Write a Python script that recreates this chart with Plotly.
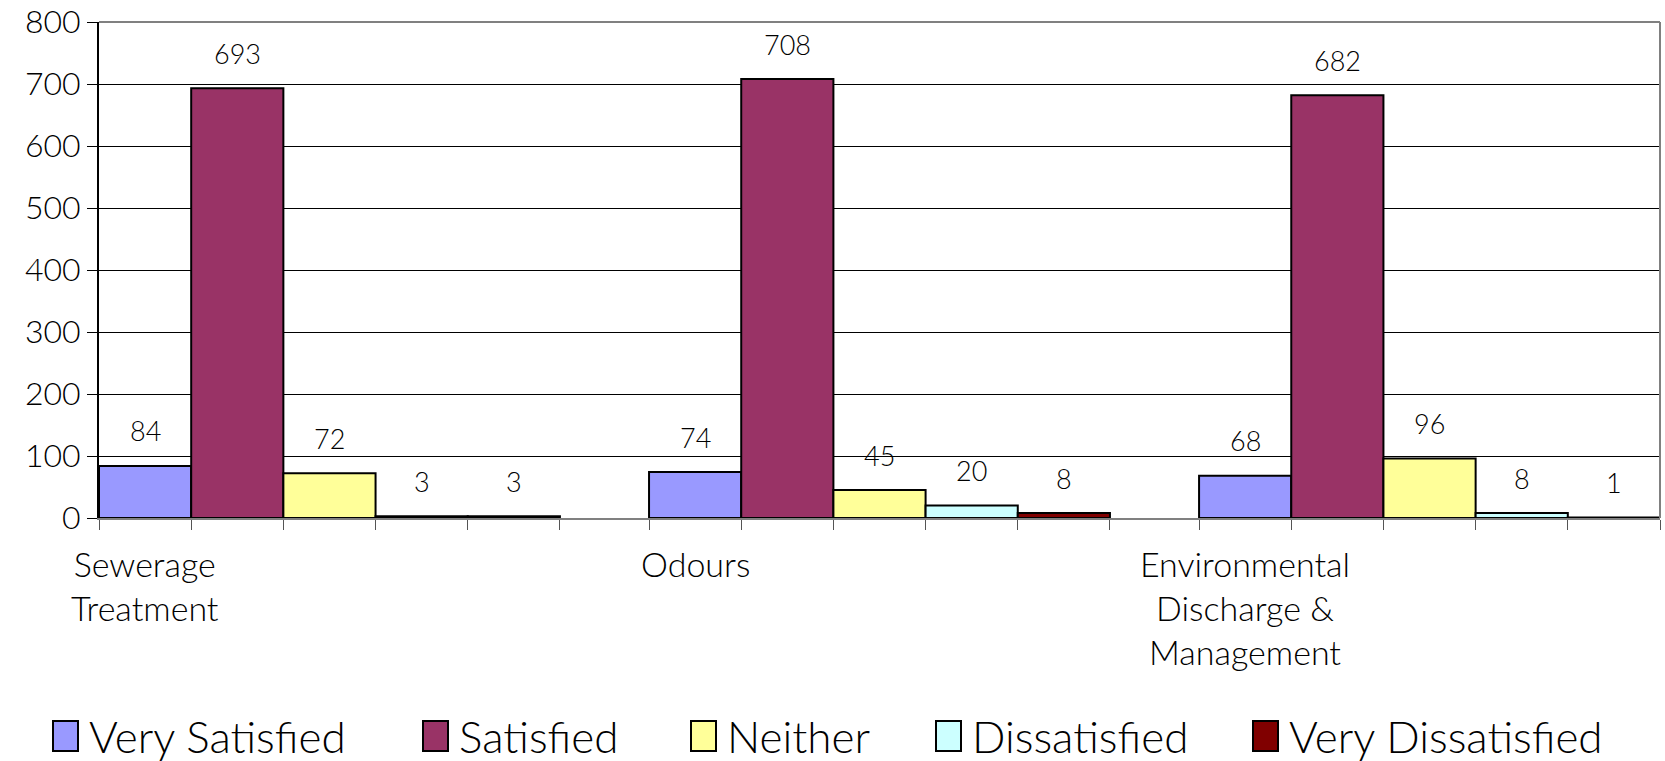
import plotly.graph_objects as go

# Survey results by topic
categories = ["Sewerage Treatment", "Odours", "Environmental Discharge & Management"]
category_labels = ["Sewerage<br>Treatment", "Odours", "Environmental<br>Discharge &<br>Management"]

series_names = ["Very Satisfied", "Satisfied", "Neither", "Dissatisfied", "Very Dissatisfied"]
very_satisfied = [84, 74, 68]
satisfied = [693, 708, 682]
neither = [72, 45, 96]
dissatisfied = [3, 20, 8]
very_dissatisfied = [3, 8, 1]

y_ticks = [0, 100, 200, 300, 400, 500, 600, 700, 800]

series_values = [very_satisfied, satisfied, neither, dissatisfied, very_dissatisfied]
series_colors = ["#9999FF", "#993366", "#FFFF99", "#CCFFFF", "#800000"]

FONT = "Lato, Liberation Sans, Arial, sans-serif"
WEIGHT = 300
W, H = 1665, 761
M_L, M_R, M_T, M_B = 99, 5, 22, 243

BARGAP = 0.162
n_series = len(series_names)
group_w = 1 - BARGAP
bar_w = group_w / n_series
x_pos = list(range(len(categories)))

fig = go.Figure()
for name, vals, col in zip(series_names, series_values, series_colors):
    fig.add_trace(go.Bar(
        x=x_pos, y=vals, name=name,
        marker=dict(color=col, line=dict(color="black", width=2)),
        showlegend=False,
    ))

# value labels above each bar
for k, vals in enumerate(series_values):
    for i, v in enumerate(vals):
        fig.add_annotation(
            x=i - group_w / 2 + bar_w * (k + 0.5), y=v, xref="x", yref="y",
            text=str(v), showarrow=False, yanchor="middle", yshift=35,
            font=dict(family=FONT, size=27, color="black", weight=WEIGHT),
        )

# category labels under the first bar of each group
for i, lab in enumerate(category_labels):
    fig.add_annotation(
        x=i - group_w / 2 + bar_w / 2, y=0, xref="x", yref="paper",
        text=lab, showarrow=False, yanchor="top", yshift=-23, align="center",
        font=dict(family=FONT, size=34, color="black", weight=WEIGHT),
    )

# tick marks at every bar boundary
boundaries = [i - group_w / 2 + bar_w * k for i in x_pos for k in range(n_series + 1)]

plot_w = W - M_L - M_R
plot_h = H - M_T - M_B


def px_x(px):
    return (px - M_L) / plot_w


def px_y(py):
    return (H - M_B - py) / plot_h


# legend drawn as swatches and labels
legend_swatch_x = [53, 423, 691, 936, 1253]
legend_cy = 736
for name, col, sx in zip(series_names, series_colors, legend_swatch_x):
    fig.add_shape(type="rect", xref="paper", yref="paper",
                  x0=px_x(sx), x1=px_x(sx + 25), y0=px_y(legend_cy - 15), y1=px_y(legend_cy + 15),
                  fillcolor=col, line=dict(color="black", width=2))
    fig.add_annotation(x=px_x(sx + 34), y=px_y(legend_cy), xref="paper", yref="paper",
                       text=name, showarrow=False, xanchor="left", yanchor="middle",
                       font=dict(family=FONT, size=44, color="black", weight=WEIGHT))

# plot area border (top and right)
fig.add_shape(type="line", xref="paper", yref="paper", x0=0, x1=1, y0=1, y1=1,
              line=dict(color="#808080", width=2))
fig.add_shape(type="line", xref="paper", yref="paper", x0=1, x1=1, y0=0, y1=1,
              line=dict(color="#808080", width=2))

fig.update_layout(
    width=W, height=H,
    margin=dict(l=M_L, r=M_R, t=M_T, b=M_B),
    paper_bgcolor="white", plot_bgcolor="white",
    barmode="group", bargap=BARGAP, bargroupgap=0,
    xaxis=dict(
        range=[-group_w / 2, len(categories) - 1 + group_w / 2],
        tickmode="array", tickvals=boundaries, showticklabels=False,
        ticks="outside", ticklen=10, tickcolor="#555555", tickwidth=1,
        showgrid=False, zeroline=False, automargin=False,
        showline=True, linecolor="#808080", linewidth=2,
    ),
    yaxis=dict(
        range=[0, 800.01], tickmode="array", tickvals=y_ticks,
        ticks="outside", ticklen=10, tickcolor="black", tickwidth=1,
        showgrid=True, gridcolor="black", gridwidth=1,
        zeroline=False, showline=True, linecolor="black", linewidth=2,
        ticklabeloverflow="allow", automargin=False,
        tickfont=dict(family=FONT, size=32, color="black", weight=WEIGHT),
    ),
)

fig.write_html("out.html")
